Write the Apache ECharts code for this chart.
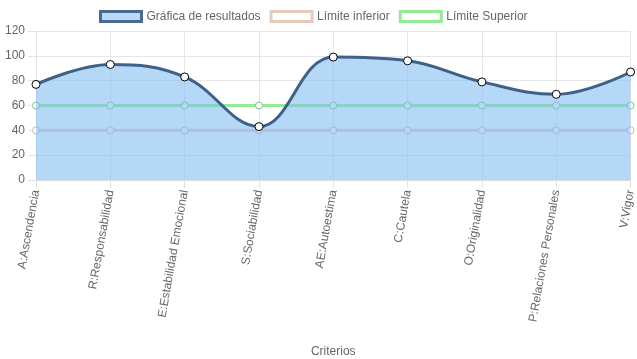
<!DOCTYPE html>
<html><head><meta charset="utf-8">
<script src="https://cdn.jsdelivr.net/npm/echarts@6/dist/echarts.min.js"></script>
<style>html,body{margin:0;padding:0;background:#fff}#c{width:637px;height:359px}</style>
</head><body><div id="c"></div>
<script>
const categories = ["A:Ascendencia","R:Responsabilidad","E:Estabilidad Emocional","S:Sociabilidad","AE:Autoestima","C:Cautela","O:Originalidad","P:Relaciones Personales","V:Vigor"];
const resultados = [77, 93, 83, 43, 99, 96, 79, 69, 87];
const limiteInferior = [40, 40, 40, 40, 40, 40, 40, 40, 40];
const limiteSuperior = [60, 60, 60, 60, 60, 60, 60, 60, 60];
const yTicks = {min: 0, max: 120, interval: 20};

const font = 'Liberation Sans, Arial, Helvetica, sans-serif';
const chart = echarts.init(document.getElementById('c'), null, {renderer: 'canvas'});
chart.setOption({
  animation: false,
  textStyle: {fontFamily: font},
  legend: {
    top: 10, left: 99, padding: 0,
    itemWidth: 41, itemHeight: 10, itemGap: 9,
    textStyle: {color: '#666', fontSize: 12, fontFamily: font},
    data: [
      {name: 'Gráfica de resultados', icon: 'rect', itemStyle: {color: '#b9daf8', borderColor: '#4a6b8f', borderWidth: 3}},
      {name: 'Límite inferior', icon: 'rect', itemStyle: {color: '#ffffff', borderColor: '#e6cbbc', borderWidth: 3}},
      {name: 'Límite Superior', icon: 'rect', itemStyle: {color: '#ffffff', borderColor: '#93ec93', borderWidth: 3}}
    ]
  },
  grid: {left: 36, right: 4, top: 31, bottom: 178.5, containLabel: false},
  xAxis: {
    type: 'category', data: categories, boundaryGap: false,
    name: 'Criterios', nameLocation: 'middle', nameGap: 166,
    nameTextStyle: {color: '#666', fontSize: 12, fontFamily: font},
    axisLine: {show: true, lineStyle: {color: '#d9d9d9', width: 1}},
    axisTick: {show: true, length: 8, lineStyle: {color: '#e2e2e2'}},
    splitLine: {show: true, lineStyle: {color: '#e6e6e6', width: 1}},
    axisLabel: {rotate: 80, color: '#666', fontSize: 12, margin: 10, fontFamily: font}
  },
  yAxis: {
    type: 'value', min: yTicks.min, max: yTicks.max, interval: yTicks.interval,
    axisLine: {show: true, lineStyle: {color: '#e2e2e2'}},
    axisTick: {show: true, length: 8, lineStyle: {color: '#e2e2e2'}},
    splitLine: {show: true, lineStyle: {color: '#e6e6e6', width: 1}},
    axisLabel: {color: '#666', fontSize: 12, margin: 11, fontFamily: font}
  },
  series: [
    {
      name: 'Límite inferior', type: 'line', data: limiteInferior, z: 1,
      symbol: 'circle', symbolSize: 7, showSymbol: true,
      lineStyle: {color: '#e6cbbc', width: 3},
      itemStyle: {color: '#ffffff', borderColor: '#c9b7b0', borderWidth: 1}
    },
    {
      name: 'Límite Superior', type: 'line', data: limiteSuperior, z: 1,
      symbol: 'circle', symbolSize: 7, showSymbol: true,
      lineStyle: {color: '#93ec93', width: 3},
      itemStyle: {color: '#ffffff', borderColor: '#7fbf8f', borderWidth: 1}
    },
    {
      name: 'Gráfica de resultados', type: 'line', data: resultados, z: 5,
      smooth: 0.4,
      symbol: 'circle', symbolSize: 8, showSymbol: true,
      lineStyle: {color: '#3e6187', width: 3},
      itemStyle: {color: '#ffffff', borderColor: '#000000', borderWidth: 1},
      areaStyle: {color: 'rgba(130,188,242,0.58)', opacity: 1, origin: 'start'}
    }
  ]
});
</script></body></html>
